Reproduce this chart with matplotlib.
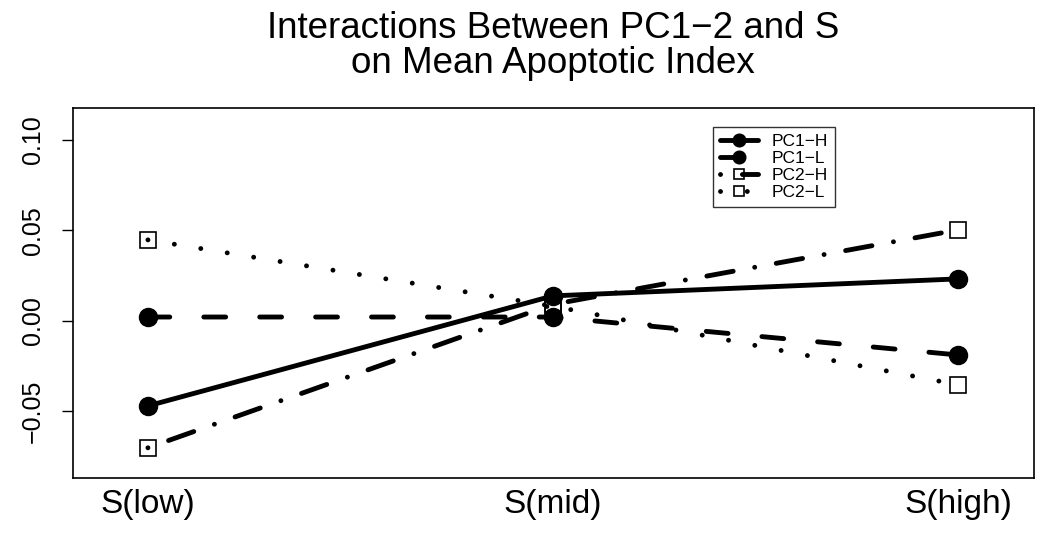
import numpy as np
import matplotlib
matplotlib.use('Agg')
import matplotlib.pyplot as plt

plt.rcParams['font.family'] = ['Liberation Sans', 'DejaVu Sans']

levels = ['S(low)', 'S(mid)', 'S(high)']
pc1_h = [-0.0472, 0.0137, 0.0231]
pc1_l = [0.0020, 0.0020, -0.0190]
pc2_h = [-0.0704, 0.0090, 0.0502]
pc2_l = [0.0447, 0.0080, -0.0355]
yticks = [-0.05, 0.00, 0.05, 0.10]

fig = plt.figure(figsize=(10.5, 5.37), dpi=100)
ax = fig.add_axes([0.0695, 0.1099, 0.9153, 0.689])

x = np.arange(1, 4)
lw = 3.5
ax.plot(x, pc1_h, color='black', lw=lw, ls='-', marker='o', ms=13,
        label='PC1\u2212H', solid_capstyle='round')
ax.plot(x, pc1_l, color='black', lw=lw, ls=(0, (4.5, 7)), marker='o', ms=13,
        label='PC1\u2212L', dash_capstyle='round')
ax.plot(x, pc2_h, color='black', lw=lw, ls=(0, (0.01, 4.5, 5.5, 4.5)), marker='s', ms=11,
        mfc='none', mec='black', mew=1.2, label='PC2\u2212H', dash_capstyle='round')
ax.plot(x, pc2_l, color='black', lw=lw, ls=(0, (0.01, 5.5)), marker='s', ms=11,
        mfc='none', mec='black', mew=1.2, label='PC2\u2212L', dash_capstyle='round')

ax.set_xlim(0.815, 3.188)
ax.set_ylim(-0.0871, 0.1177)
ax.set_xticks(x)
ax.set_xticklabels(levels, fontsize=24)
ax.tick_params(axis='x', length=0, pad=8)
ax.set_yticks(yticks)
ax.set_yticklabels(['\u22120.05', '0.00', '0.05', '0.10'], fontsize=18,
                   rotation=90, va='center')
ax.tick_params(axis='y', length=8, width=1, pad=12)
for s in ax.spines.values():
    s.set_linewidth(1.2)

leg = ax.legend(loc='upper left', bbox_to_anchor=(0.666, 0.9486), fontsize=12.5,
                frameon=True, fancybox=False, edgecolor='black', handlelength=2.2,
                markerscale=0.7, borderpad=0.4, labelspacing=0.1, borderaxespad=0,
                handletextpad=0.8)
leg.get_frame().set_linewidth(1.0)

fig.text(0.527, 0.98, 'Interactions Between PC1\u22122 and S\non Mean Apoptotic Index',
         ha='center', va='top', fontsize=26.5, linespacing=1.0)

fig.savefig('out.png', dpi=100)
